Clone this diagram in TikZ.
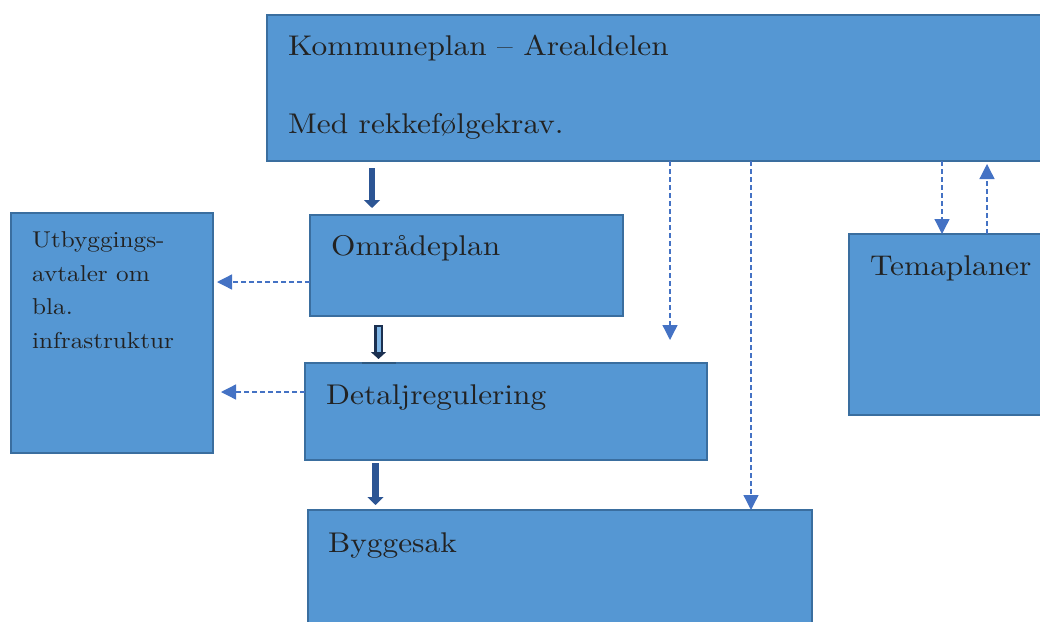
\documentclass[tikz,border=0pt]{standalone}
\usepackage{fontspec}
\setmainfont{lmroman10-regular.otf}[FakeStretch=1.1, BoldFont=lmroman10-bold.otf, ItalicFont=lmroman10-italic.otf]
\usetikzlibrary{arrows.meta}
\definecolor{boxfill}{HTML}{5597D3}
\definecolor{boxline}{HTML}{3A6E9F}
\definecolor{dashblue}{HTML}{4472C4}
\definecolor{arrowblue}{HTML}{2C5594}
\definecolor{navyline}{HTML}{1B3050}
\definecolor{lightarrow}{HTML}{7FB6E6}
\definecolor{textcol}{HTML}{222222}
\begin{document}
\begin{tikzpicture}[x=1pt,y=-1pt,
  box/.style={draw=boxline, fill=boxfill, line width=2.5pt, anchor=north west, inner sep=0pt, outer sep=0pt},
  txt/.style={font=\fontsize{28.5}{34}\selectfont, text=textcol, inner sep=0pt, anchor=base west},
  smalltxt/.style={font=\fontsize{22.9}{33.5}\selectfont, text=textcol, inner sep=0pt, anchor=base west, align=left},
  dasharrow/.style={draw=dashblue, line width=1.3pt, dash pattern=on 5pt off 3pt, -{Triangle[length=15pt,width=15pt]}},
  blockarrow/.style={draw=arrowblue, line width=6.5pt, -{Triangle[length=8pt,width=16pt]}}
]
\useasboundingbox (0,0) rectangle (1040,621);
\clip (0,0) rectangle (1040,621);

% boxes
\node[box, minimum width=778pt, minimum height=146pt] (kp) at (267,15) {};
\node[box, minimum width=202pt, minimum height=240pt] (ut) at (11,213) {};
\node[box, minimum width=313pt, minimum height=101pt] (op) at (310,215) {};
\node[box, minimum width=402pt, minimum height=97pt] (dr) at (305,363) {};
\node[box, minimum width=504pt, minimum height=130pt] (bs) at (308,510) {};
\node[box, minimum width=200pt, minimum height=181pt] (tp) at (849,234) {};

% texts
\node[txt] (kpt1) at (288,55) {Kommuneplan – Arealdelen};
\node[txt] (kpt2) at (288,133) {Med rekkefølgekrav.};
\node[txt] (opt) at (331,255) {Områdeplan};
\node[txt] (drt) at (326,404) {Detaljregulering};
\node[txt] (bst) at (328,552) {Byggesak};
\node[txt] (tpt) at (870,275) {Temaplaner};
\node[smalltxt] (utt) at (32,348) {Utbyggings-\\avtaler om\\bla.\\infrastruktur};

% coordinates for free ends
\coordinate (u1) at (217,282);
\coordinate (u2) at (221,392);
\coordinate (d1) at (670,340);
\coordinate (c2) at (751,0);
\coordinate (c3) at (942,0);
\coordinate (c4) at (987,0);
\coordinate (a1) at (372,0);
\coordinate (a2) at (378.5,0);
\coordinate (a3) at (375.5,0);

% dashed connectors
\draw[dasharrow] (op.west |- u1) -- (u1);
\draw[dasharrow] (dr.west |- u2) -- (u2);
\draw[dasharrow] (kp.south -| d1) -- (d1);
\draw[dasharrow] (kp.south -| c2) -- (bs.north -| c2);
\draw[dasharrow] (kp.south -| c3) -- (tp.north -| c3);
\draw[dasharrow] (tp.north -| c4) -- ([yshift=-3pt]kp.south -| c4);

% block arrows
\draw[blockarrow] ([yshift=-7pt]kp.south -| a1) -- ([yshift=7pt]op.north -| a1);
\draw[draw=navyline, line width=9pt, -{Triangle[length=7pt,width=15pt]}] ([yshift=-9pt]op.south -| a2) -- ([yshift=4pt]dr.north -| a2);
\draw[draw=lightarrow, line width=4pt] ([yshift=-10.5pt]op.south -| a2) -- ([yshift=11pt]dr.north -| a2);
\draw[draw=boxline!80!black, line width=2.5pt] ([xshift=-17pt]dr.north -| a2) -- ([xshift=17pt]dr.north -| a2);
\draw[blockarrow] ([yshift=-3pt]dr.south -| a3) -- ([yshift=5pt]bs.north -| a3);
\end{tikzpicture}
\end{document}
